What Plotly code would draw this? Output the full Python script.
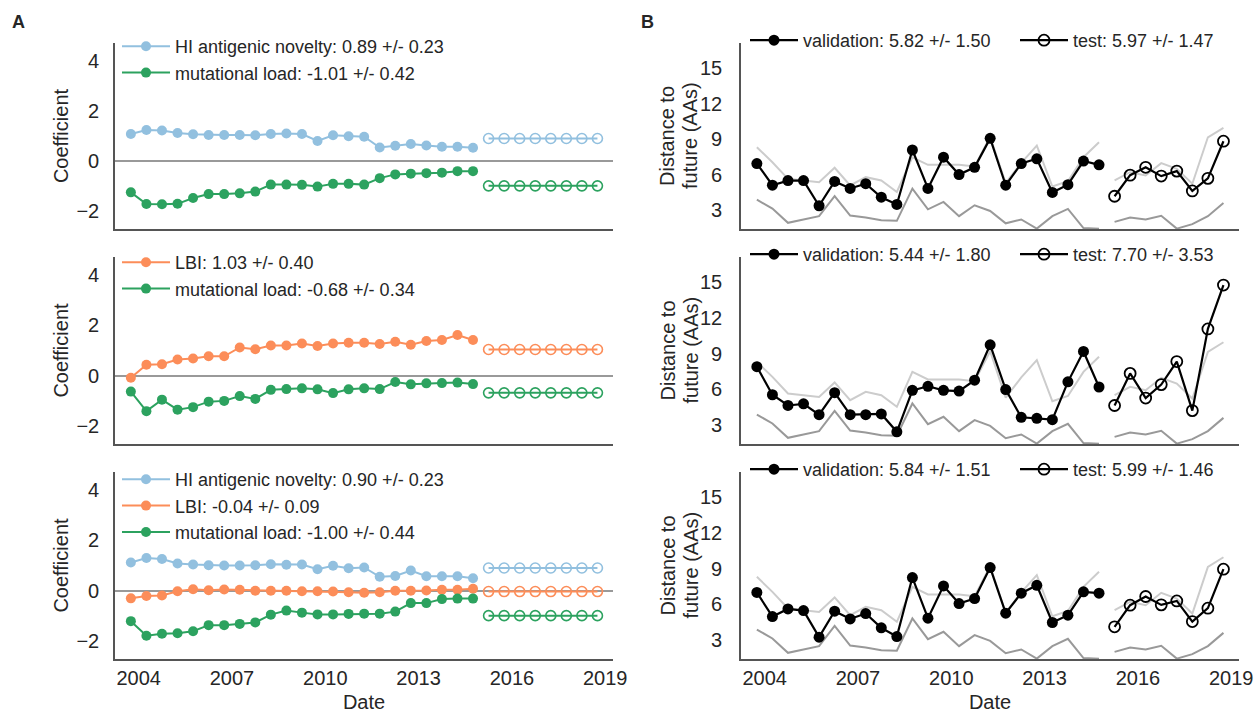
import plotly.graph_objects as go

# ---------------- data ----------------
val_dates = [2003.75, 2004.25, 2004.75, 2005.25, 2005.75, 2006.25, 2006.75, 2007.25,
             2007.75, 2008.25, 2008.75, 2009.25, 2009.75, 2010.25, 2010.75, 2011.25,
             2011.75, 2012.25, 2012.75, 2013.25, 2013.75, 2014.25, 2014.75]
test_dates = [2015.25, 2015.75, 2016.25, 2016.75, 2017.25, 2017.75, 2018.25, 2018.75]

# Panel A, row 1: HI antigenic novelty + mutational load
a1_hi = [1.08, 1.24, 1.22, 1.12, 1.07, 1.04, 1.04, 1.04, 1.03, 1.08, 1.10, 1.08,
         0.80, 1.03, 0.99, 0.97, 0.54, 0.61, 0.68, 0.62, 0.57, 0.57, 0.53]
a1_hi_test = [0.90, 0.90, 0.90, 0.90, 0.90, 0.90, 0.90, 0.90]
a1_ml = [-1.26, -1.73, -1.74, -1.72, -1.49, -1.33, -1.33, -1.30, -1.23, -0.95, -0.95, -0.96,
         -1.03, -0.92, -0.92, -0.95, -0.69, -0.54, -0.51, -0.49, -0.47, -0.41, -0.41]
a1_ml_test = [-1.00, -1.00, -1.00, -1.00, -1.00, -1.00, -1.00, -1.00]

# Panel A, row 2: LBI + mutational load
a2_lbi = [-0.09, 0.43, 0.45, 0.64, 0.68, 0.77, 0.77, 1.12, 1.05, 1.20, 1.20, 1.28,
          1.18, 1.28, 1.31, 1.31, 1.26, 1.35, 1.23, 1.38, 1.42, 1.62, 1.42]
a2_lbi_test = [1.04, 1.04, 1.04, 1.04, 1.04, 1.04, 1.04, 1.04]
a2_ml = [-0.64, -1.42, -0.96, -1.36, -1.26, -1.04, -1.01, -0.82, -0.93, -0.57, -0.54, -0.51,
         -0.55, -0.70, -0.55, -0.51, -0.54, -0.26, -0.35, -0.31, -0.30, -0.28, -0.34]
a2_ml_test = [-0.69, -0.69, -0.69, -0.69, -0.69, -0.69, -0.69, -0.69]

# Panel A, row 3: HI + LBI + mutational load
a3_hi = [1.12, 1.30, 1.26, 1.08, 1.04, 1.01, 1.00, 1.00, 1.01, 1.05, 1.03, 1.04,
         0.85, 0.99, 0.89, 0.92, 0.55, 0.58, 0.80, 0.57, 0.57, 0.57, 0.49]
a3_hi_test = [0.90, 0.90, 0.90, 0.90, 0.90, 0.90, 0.90, 0.90]
a3_lbi = [-0.31, -0.22, -0.20, -0.03, 0.05, 0.01, 0.04, 0.03, -0.01, -0.01, -0.01, -0.03,
          -0.03, -0.04, -0.07, -0.09, -0.07, -0.01, -0.01, 0.00, 0.03, 0.03, 0.07]
a3_lbi_test = [-0.04, -0.04, -0.04, -0.04, -0.04, -0.04, -0.04, -0.04]
a3_ml = [-1.22, -1.80, -1.72, -1.70, -1.62, -1.38, -1.38, -1.33, -1.27, -0.96, -0.80, -0.88,
         -0.95, -0.95, -0.93, -0.92, -0.92, -0.84, -0.50, -0.50, -0.34, -0.32, -0.32]
a3_ml_test = [-1.00, -1.00, -1.00, -1.00, -1.00, -1.00, -1.00, -1.00]

a1_names = ["HI antigenic novelty: 0.89 +/- 0.23", "mutational load: -1.01 +/- 0.42"]
a2_names = ["LBI: 1.03 +/- 0.40", "mutational load: -0.68 +/- 0.34"]
a3_names = ["HI antigenic novelty: 0.90 +/- 0.23", "LBI: -0.04 +/- 0.09",
            "mutational load: -1.00 +/- 0.44"]

# Panel B: reference lines (upper = naive, lower = optimal)
upper_val = [8.31, 7.05, 5.65, 5.51, 5.37, 6.58, 5.09, 5.79, 5.51, 4.54, 7.47, 6.83,
             6.83, 6.83, 6.69, 9.20, 5.30, 7.00, 8.45, 5.00, 5.45, 7.47, 8.73]
upper_test = [5.51, 6.21, 5.93, 6.97, 6.49, 5.23, 9.15, 9.95]
lower_val = [3.89, 3.14, 1.94, 2.22, 2.50, 4.20, 2.55, 2.39, 2.16, 2.11, 4.82, 3.08,
             3.70, 2.50, 3.42, 2.94, 1.90, 2.22, 1.45, 2.50, 3.11, 1.50, 1.45]
lower_test = [2.02, 2.39, 2.22, 2.53, 1.45, 1.83, 2.50, 3.61]

b1_val = [6.94, 5.11, 5.50, 5.50, 3.38, 5.43, 4.84, 5.24, 4.10, 3.49, 8.08, 4.84,
          7.47, 6.01, 6.62, 9.06, 5.11, 6.94, 7.34, 4.50, 5.16, 7.15, 6.83]
b1_test = [4.18, 5.96, 6.62, 5.88, 6.30, 4.63, 5.69, 8.82]
b2_val = [7.90, 5.55, 4.65, 4.79, 3.88, 5.72, 3.88, 3.88, 3.94, 2.44, 5.92, 6.26,
          5.92, 5.86, 6.77, 9.74, 5.98, 3.66, 3.57, 3.46, 6.63, 9.18, 6.20]
b2_test = [4.65, 7.34, 5.27, 6.40, 8.33, 4.22, 11.07, 14.75]
b3_val = [7.00, 4.98, 5.62, 5.48, 3.25, 5.43, 4.78, 5.23, 4.03, 3.30, 8.25, 4.84,
          7.55, 6.07, 6.49, 9.09, 5.26, 6.94, 7.60, 4.48, 5.09, 7.05, 6.94]
b3_test = [4.12, 5.93, 6.66, 5.96, 6.29, 4.56, 5.68, 8.95]

b_names = [("validation: 5.82 +/- 1.50", "test: 5.97 +/- 1.47"),
           ("validation: 5.44 +/- 1.80", "test: 7.70 +/- 3.53"),
           ("validation: 5.84 +/- 1.51", "test: 5.99 +/- 1.46")]

b_ylabel = ["Distance to", "future (AAs)"]

year_ticks = [2004, 2007, 2010, 2013, 2016, 2019]
coef_ticks = [-2, 0, 2, 4]
dist_ticks = [3, 6, 9, 12, 15]

C_HI = "#92c0df"
C_LBI = "#fc8d59"
C_ML = "#2ca25f"

# ---------------- layout geometry ----------------
W, H = 1257, 713
rows = [(43, 229), (257, 444), (472, 659)]
xA = [115 / W, 613 / W]
xB = [741 / W, 1239 / W]
FONT = "Liberation Sans, Arial, sans-serif"
TXT = "#262626"
SPINE = "#555555"

fig = go.Figure()


def add_coef(ax, dates, vals, tdates, tvals, color, name, legend):
    fig.add_trace(go.Scatter(x=dates, y=vals, mode="lines+markers", name=name,
                             line=dict(color=color, width=2),
                             marker=dict(color=color, size=10, symbol="circle"),
                             xaxis="x" + ax, yaxis="y" + ax, legend=legend,
                             showlegend=True))
    fig.add_trace(go.Scatter(x=tdates, y=tvals, mode="lines+markers",
                             line=dict(color=color, width=2),
                             marker=dict(color=color, size=10, symbol="circle-open",
                                         line=dict(width=1.6, color=color)),
                             xaxis="x" + ax, yaxis="y" + ax, showlegend=False))


add_coef("", val_dates, a1_hi, test_dates, a1_hi_test, C_HI, a1_names[0], "legend")
add_coef("", val_dates, a1_ml, test_dates, a1_ml_test, C_ML, a1_names[1], "legend")
add_coef("2", val_dates, a2_lbi, test_dates, a2_lbi_test, C_LBI, a2_names[0], "legend2")
add_coef("2", val_dates, a2_ml, test_dates, a2_ml_test, C_ML, a2_names[1], "legend2")
add_coef("3", val_dates, a3_hi, test_dates, a3_hi_test, C_HI, a3_names[0], "legend3")
add_coef("3", val_dates, a3_lbi, test_dates, a3_lbi_test, C_LBI, a3_names[1], "legend3")
add_coef("3", val_dates, a3_ml, test_dates, a3_ml_test, C_ML, a3_names[2], "legend3")

for i, (bv, bt) in enumerate([(b1_val, b1_test), (b2_val, b2_test), (b3_val, b3_test)]):
    ax = str(4 + i)
    lg = "legend" + str(4 + i)
    for xs, ys, col in [(val_dates, upper_val, "#cccccc"), (test_dates, upper_test, "#cccccc"),
                        (val_dates, lower_val, "#999999"), (test_dates, lower_test, "#999999")]:
        fig.add_trace(go.Scatter(x=xs, y=ys, mode="lines", line=dict(color=col, width=2),
                                 xaxis="x" + ax, yaxis="y" + ax, showlegend=False,
                                 hoverinfo="skip"))
    fig.add_trace(go.Scatter(x=val_dates, y=bv, mode="lines+markers", name=b_names[i][0],
                             line=dict(color="black", width=2.2),
                             marker=dict(color="black", size=11, symbol="circle"),
                             xaxis="x" + ax, yaxis="y" + ax, legend=lg))
    fig.add_trace(go.Scatter(x=test_dates, y=bt, mode="lines+markers", name=b_names[i][1],
                             line=dict(color="black", width=2.2),
                             marker=dict(color="black", size=11, symbol="circle-open",
                                         line=dict(width=1.8, color="black")),
                             xaxis="x" + ax, yaxis="y" + ax, legend=lg))

layout = dict(
    width=W, height=H,
    margin=dict(l=0, r=0, t=0, b=0, autoexpand=False),
    paper_bgcolor="white", plot_bgcolor="white",
    font=dict(family=FONT, size=20, color=TXT),
)

xcommon = dict(range=[2003.24, 2019.25], tickmode="array", tickvals=year_ticks,
               ticktext=[str(v) for v in year_ticks], showline=True, linecolor=SPINE,
               linewidth=1.6, showgrid=False, zeroline=False, ticks="", automargin=False,
               tickfont=dict(size=20, color=TXT))

for i in range(6):
    key = "xaxis" if i == 0 else "xaxis" + str(i + 1)
    ykey = "yaxis" if i == 0 else "yaxis" + str(i + 1)
    r = rows[i % 3]
    ydom = [1 - r[1] / H, 1 - r[0] / H]
    xd = xA if i < 3 else xB
    anchor = "y" if i == 0 else "y" + str(i + 1)
    xa = dict(xcommon, domain=xd, anchor=anchor, showticklabels=(i % 3 == 2))
    if i % 3 == 2:
        xa["title"] = dict(text="Date", font=dict(size=20, color=TXT), standoff=8)
    layout[key] = xa
    xanchor = "x" if i == 0 else "x" + str(i + 1)
    if i < 3:
        ya = dict(domain=ydom, anchor=xanchor, range=[-2.73, 4.73], tickmode="array",
                  tickvals=coef_ticks, showline=True, linecolor=SPINE, linewidth=1.6,
                  showgrid=False, zeroline=True, zerolinecolor="#999999", zerolinewidth=2,
                  ticks="", ticklabelstandoff=10, tickfont=dict(size=20, color=TXT),
                  automargin=False,
                  title=dict(text="Coefficient", font=dict(size=20, color=TXT), standoff=2))
    else:
        ya = dict(domain=ydom, anchor=xanchor, range=[1.42, 17.1], tickmode="array",
                  tickvals=dist_ticks, showline=True, linecolor=SPINE, linewidth=1.6,
                  showgrid=False, zeroline=False, ticks="", ticklabelstandoff=13,
                  tickfont=dict(size=20, color=TXT), automargin=False)
    layout[ykey] = ya

leg_common = dict(xanchor="left", yanchor="top", bgcolor="rgba(0,0,0,0)",
                  font=dict(size=18, color=TXT), itemwidth=48, tracegroupgap=0,
                  borderwidth=0)
layout["legend"] = dict(leg_common, x=117 / W, y=1 - 28 / H)
layout["legend2"] = dict(leg_common, x=117 / W, y=1 - 244 / H)
layout["legend3"] = dict(leg_common, x=117 / W, y=1 - 461 / H)
for i in range(3):
    layout["legend" + str(4 + i)] = dict(leg_common, x=745 / W, y=1 - (rows[i][0] - 21) / H,
                                         orientation="h", entrywidth=207)

annotations = [
    dict(text="<b>A</b>", x=10 / W, y=1 - 10 / H, xref="paper", yref="paper",
         xanchor="left", yanchor="top", showarrow=False, font=dict(size=18, color=TXT)),
    dict(text="<b>B</b>", x=639 / W, y=1 - 10 / H, xref="paper", yref="paper",
         xanchor="left", yanchor="top", showarrow=False, font=dict(size=18, color=TXT)),
]
for r in rows:
    yc = 1 - (r[0] + r[1]) / 2 / H
    for txt, xc in zip(b_ylabel, [667, 690]):
        annotations.append(dict(text=txt, x=xc / W, y=yc, xref="paper", yref="paper",
                                xanchor="center", yanchor="middle", textangle=-90,
                                showarrow=False, font=dict(size=20, color=TXT)))
layout["annotations"] = annotations

fig.update_layout(**layout)
fig.write_html("out.html")
